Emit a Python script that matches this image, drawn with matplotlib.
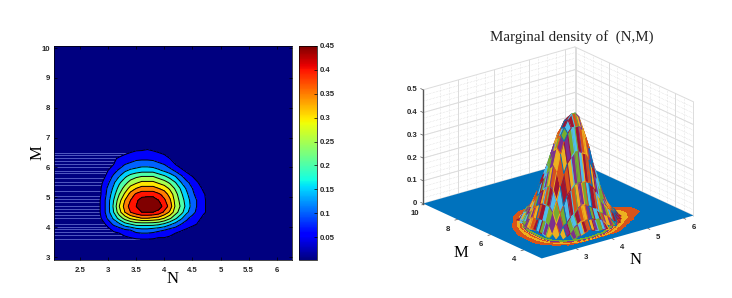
import numpy as np
import matplotlib
matplotlib.use("Agg")
import matplotlib.pyplot as plt
from matplotlib.cm import ScalarMappable
from matplotlib.colors import Normalize, to_rgba
from mpl_toolkits.mplot3d import proj3d

# values
n_vals = [2.5, 2.6, 2.7, 2.8, 2.9, 3.0, 3.1, 3.2, 3.3, 3.4, 3.5, 3.6, 3.7, 3.8, 3.9, 4.0,
          4.1, 4.2, 4.3, 4.4, 4.5, 4.6, 4.7, 4.8, 4.9, 5.0, 5.1, 5.2, 5.3, 5.4, 5.5]
m_vals = [3.3, 3.5, 3.7, 3.9, 4.1, 4.3, 4.5, 4.7, 4.9, 5.1, 5.3, 5.5, 5.7, 5.9, 6.1, 6.3,
          6.5, 6.7, 6.9, 7.1, 7.3]
# density x 100, one row per M
density = [
    [0, 0, 0, 0, 0, 0, 0, 0, 0, 0, 0, 0, 0, 0, 0, 0, 0, 0, 0, 0, 0, 0, 0, 0, 0, 0, 0, 0, 0, 0, 0],
    [0, 0, 0, 0, 0, .3, .5, 1, 1.5, 2, 2.5, 3, 3, 2.5, 2, 2, 1.5, 1, .7, .4, .2, 0, 0, 0, 0, 0, 0, 0, 0, 0, 0],
    [0, 0, 0, .2, .5, 1, 2, 3, 5, 6, 7, 7, 7, 7, 6, 6, 5, 3, 2, 1.2, .7, .4, .2, 0, 0, 0, 0, 0, 0, 0, 0],
    [0, 0, .2, .5, 1.5, 3, 6, 7, 9, 10, 12, 13, 13, 12, 11, 10, 8, 7, 5.5, 4, 2, 1.2, .7, .4, .2, 0, 0, 0, 0, 0, 0],
    [0, .2, .5, 1.5, 3, 7, 11, 14, 18, 20, 22, 22, 22, 22, 21, 19, 16, 13, 10, 8, 6.5, 4.5, 1.5, 1, .6, .4, .2, 0, 0, 0, 0],
    [.1, .3, .7, 1.5, 6, 11, 16, 22, 27, 31, 33, 35, 35, 34, 33, 30, 26, 21, 16, 11, 8, 6, 4, 1.8, 1.2, .8, .5, .3, .1, 0, 0],
    [.2, .4, 1, 2, 7, 13, 20, 28, 35, 40, 43, 45, 45, 45, 43, 39, 34, 27, 22, 16, 12, 8, 5.5, 4, 1.5, 1, .7, .5, .3, .2, .1],
    [.2, .4, 1, 2, 7, 13, 21, 30, 37, 42, 45, 48, 50, 50, 48, 43, 38, 29, 24, 18, 13, 9, 6, 3, 1.8, 1.2, .8, .6, .4, .2, .1],
    [.2, .4, 1, 2, 7, 13, 20, 28, 35, 40, 44, 47, 48, 48, 45, 41, 36, 28, 23, 17, 13, 9, 6, 3, 1.8, 1.2, .8, .6, .4, .2, .1],
    [.2, .4, 1, 2, 6, 12, 18, 25, 31, 37, 41, 43, 43, 43, 41, 38, 33, 27, 21, 16, 11, 8, 5.5, 3, 1.3, .9, .6, .4, .2, .1, 0],
    [.1, .3, .8, 1.5, 6, 11, 16, 22, 27, 32, 35, 37, 37, 37, 35, 33, 29, 24, 19, 14, 10, 7, 4, 1.5, 1, .6, .4, .2, .1, 0, 0],
    [0, .2, .6, 1.5, 5, 9, 14, 19, 23, 27, 29, 31, 31, 31, 29, 27, 24, 20, 15, 11, 8, 5, 2, 1.2, .7, .4, .2, 0, 0, 0, 0],
    [0, .1, .4, 1, 3, 7, 11, 15, 19, 22, 24, 25, 25, 25, 23, 21, 18, 15, 11, 7, 5, 2.5, 1.3, .7, .4, .2, 0, 0, 0, 0, 0],
    [0, 0, .2, .6, 2, 5, 8, 11, 14, 16, 17, 18, 18, 18, 16, 14, 12, 9, 6, 4, 2.5, 1.3, .7, .3, .1, 0, 0, 0, 0, 0, 0],
    [0, 0, .1, .3, 1, 2, 5, 7, 10, 11, 12, 13, 13, 12, 11, 10, 7, 5, 3, 1.5, .8, .4, .2, 0, 0, 0, 0, 0, 0, 0, 0],
    [0, 0, 0, .1, .4, 1, 4, 6, 7, 8, 9, 9, 9, 9, 8, 7, 5, 3, 1.5, .7, .3, .1, 0, 0, 0, 0, 0, 0, 0, 0, 0],
    [0, 0, 0, 0, .1, .5, 1, 2, 4, 5, 6, 6, 7, 6, 5, 4, 2, 1, .5, .2, 0, 0, 0, 0, 0, 0, 0, 0, 0, 0, 0],
    [0, 0, 0, 0, 0, .1, .3, .7, 1.2, 2, 2.5, 3, 3, 2.5, 2, 1.3, .8, .4, .2, 0, 0, 0, 0, 0, 0, 0, 0, 0, 0, 0, 0],
    [0, 0, 0, 0, 0, 0, .1, .3, .5, .8, 1, 1.2, 1.2, 1, .7, .4, .2, 0, 0, 0, 0, 0, 0, 0, 0, 0, 0, 0, 0, 0, 0],
    [0, 0, 0, 0, 0, 0, 0, 0, .1, .3, .4, .5, .5, .4, .2, .1, 0, 0, 0, 0, 0, 0, 0, 0, 0, 0, 0, 0, 0, 0, 0],
    [0, 0, 0, 0, 0, 0, 0, 0, 0, 0, 0, 0, 0, 0, 0, 0, 0, 0, 0, 0, 0, 0, 0, 0, 0, 0, 0, 0, 0, 0, 0],
]
levels = [0.05, 0.10, 0.15, 0.20, 0.25, 0.30, 0.35, 0.40, 0.45]
cbar_ticks = [0.05, 0.1, 0.15, 0.2, 0.25, 0.3, 0.35, 0.4, 0.45]
cbar_labels = ["0.05", "0.1", "0.15", "0.2", "0.25", "0.3", "0.35", "0.4", "0.45"]
left_xticks = [2.5, 3, 3.5, 4, 4.5, 5, 5.5, 6]
left_xlabels = ["2.5", "3", "3.5", "4", "4.5", "5", "5.5", "6"]
left_yticks = [3, 4, 5, 6, 7, 8, 9, 10]
# the pale streaks to the left of the contours
streak_m = [6.5, 6.42, 6.33, 6.22, 6.1, 6.0, 5.88, 5.8, 5.65, 5.5, 5.4, 5.2, 5.05, 4.95,
            4.85, 4.7, 4.6, 4.5, 4.4, 4.3, 4.1, 4.02, 3.95, 3.85, 3.75, 3.62]
n_lim = (2.04, 6.27)
m_lim = (2.9, 10.07)

line_colors = ["#0072BD", "#D95319", "#EDB120", "#7E2F8E", "#77AC30", "#4DBEEE", "#A2142F"]
ring_levels = [0.001, 0.006, 0.012, 0.017, 0.022, 0.03, 0.04]
ring_colors = ["#D95319", "#EDB120", "#D95319", "#EDB120", "#7E2F8E", "#77AC30"]

W, H = 732, 298
tick_font = dict(fontsize=5.6, color="#262626", family="Liberation Sans", fontweight="bold")
serif = "Liberation Serif"


def box(x0, y0, x1, y1):
    # pixel box (top-left origin) to figure fractions
    return [x0 / W, 1 - y1 / H, (x1 - x0) / W, (y1 - y0) / H]


N, M = np.meshgrid(n_vals, m_vals)
Z = np.array(density) / 100.0
cmap = plt.get_cmap("jet")
norm = Normalize(0.002, 0.45)

fig = plt.figure(figsize=(W / 100, H / 100), dpi=100)

# left: filled contour map
ax = fig.add_axes(box(54, 46, 292, 260))
ax.set_facecolor(cmap(0.0))
ax.hlines(streak_m, n_lim[0], 3.7, color="#7f8de6", lw=0.55, alpha=0.8, zorder=1)
fill_colors = [cmap(norm(v)) for v in levels]
ax.contourf(N, M, Z, levels=levels + [0.55], colors=fill_colors, zorder=2)
ax.contour(N, M, Z, levels=levels, colors="k", linewidths=0.7, zorder=3)
ax.set_xlim(n_lim)
ax.set_ylim(m_lim)
ax.set_xticks(left_xticks)
ax.set_xticklabels(left_xlabels, **tick_font)
ax.set_yticks(left_yticks)
ax.set_yticklabels([str(v) for v in left_yticks], **tick_font)
ax.tick_params(direction="in", length=2, width=0.5, top=True, right=True, pad=3)
ax.tick_params(axis="x", pad=5)
ax.set_xlabel("N", family=serif, fontsize=12, labelpad=-2)
ax.set_ylabel("M", family=serif, fontsize=12, labelpad=-3)
for s in ax.spines.values():
    s.set_linewidth(0.5)

# colorbar
cax = fig.add_axes(box(299, 46, 317, 260))
cb = fig.colorbar(ScalarMappable(norm=norm, cmap=cmap), cax=cax)
cb.set_ticks(cbar_ticks)
cb.set_ticklabels(cbar_labels, **tick_font)
cb.ax.tick_params(direction="in", length=2, width=0.5, pad=2)
cb.outline.set_linewidth(0.5)

# right: 3D mesh
ax3 = fig.add_axes(box(394, -3, 714, 317), projection="3d", computed_zorder=False)
ax3.set_proj_type("ortho")
ax3.view_init(elev=21.2, azim=-128)
ax3.set_box_aspect((1, 1, 0.634), zoom=0.905)
ax3.set_xlim(n_lim)
ax3.set_ylim(m_lim)
ax3.set_zlim(0, 0.5)
ax3.set_xticks([])
ax3.set_yticks([])
ax3.set_zticks([])
ax3.set_axis_off()
ax3.patch.set_alpha(0)

z_ticks = [0, 0.1, 0.2, 0.3, 0.4, 0.5]
n_ticks = [3, 4, 5, 6]
m_ticks = [4, 6, 8, 10]
major = dict(color="#dcdcdc", lw=0.7, zorder=0)
minor = dict(color="#d0d0d0", lw=0.4, ls=":", zorder=0)
n0, n1 = n_lim
m0, m1 = m_lim
for z in np.arange(0, 0.5, 0.025):
    ax3.plot([n0, n1], [m1, m1], [z, z], **minor)
    ax3.plot([n1, n1], [m0, m1], [z, z], **minor)
for v in np.arange(2.5, 6.2, 0.25):
    ax3.plot([v, v], [m1, m1], [0, 0.5], **minor)
for v in np.arange(3.5, 10, 0.5):
    ax3.plot([n1, n1], [v, v], [0, 0.5], **minor)
for z in z_ticks:
    ax3.plot([n0, n1], [m1, m1], [z, z], **major)
    ax3.plot([n1, n1], [m0, m1], [z, z], **major)
for v in n_ticks:
    ax3.plot([v, v], [m1, m1], [0, 0.5], **major)
for v in m_ticks:
    ax3.plot([n1, n1], [v, v], [0, 0.5], **major)
ax3.plot([n1, n1], [m1, m1], [0, 0.5], **major)
ax3.plot([n0, n0], [m1, m1], [0, 0.5], color="#555555", lw=1.0, zorder=0.5)
ax3.plot([n1, n1], [m0, m0], [0, 0.5], **major)

# floor
ax3.plot_surface(np.array([[n0, n1], [n0, n1]]), np.array([[m0, m0], [m1, m1]]),
                 np.zeros((2, 2)), color="#0072BD", shade=False, linewidth=0, zorder=1)
# coloured rings at the foot of the peak
ax3.contourf(N, M, Z, levels=ring_levels, colors=ring_colors, zdir="z", offset=0, zorder=2)

# the peak, cells and edges coloured in the line colour cycle
nr, nc = Z.shape
cell_colors = np.zeros((nr - 1, nc - 1, 4))
edge_colors = np.zeros((nr - 1, nc - 1, 4))
for i in range(nr - 1):
    for j in range(nc - 1):
        if Z[i:i + 2, j:j + 2].max() >= 0.035:
            cell_colors[i, j] = to_rgba(line_colors[1 + (i + j) % 6])
            edge_colors[i, j] = to_rgba(line_colors[(i - j + 3) % 7])
surf = ax3.plot_surface(N, M, Z, facecolors=cell_colors, shade=False, rstride=1, cstride=1,
                        linewidth=0.7, zorder=3)
surf.set_edgecolor(edge_colors.reshape(-1, 4))

# tick stubs
for v in n_ticks:
    ax3.plot([v, v], [m0, m0 - 0.12], [0, 0], color="#555555", lw=0.5, zorder=4, clip_on=False)
for v in m_ticks:
    ax3.plot([n0, n0 - 0.07], [v, v], [0, 0], color="#555555", lw=0.5, zorder=4, clip_on=False)
for z in z_ticks:
    ax3.plot([n0, n0], [m1, m1 + 0.15], [z, z], color="#555555", lw=0.5, zorder=4, clip_on=False)


def label3d(x, y, z, s, dx=0, **kw):
    # text placed at the projected position of a point in the 3D axes
    px, py, _ = proj3d.proj_transform(x, y, z, ax3.get_proj())
    ax3.annotate(s, xy=(px, py), xytext=(dx, 0), textcoords="offset pixels", annotation_clip=False,
                 va="center", zorder=6, **kw, **tick_font)


for z in z_ticks:
    label3d(n0, m1, z, "%g" % z, dx=-6, ha="right")
for v in n_ticks:
    label3d(v - 0.16, m0 - 0.94, 0, str(v), ha="center")
for v in m_ticks:
    label3d(n0 - 0.54, v - 0.57, 0, str(v), ha="center")

fig.text(572 / W, 1 - 37 / H, "Marginal density of  (N,M)", family=serif, fontsize=10.8,
         ha="center", va="center", color="#222222")
fig.text(461 / W, 1 - 253 / H, "M", family=serif, fontsize=12, ha="center", va="center")
fig.text(636 / W, 1 - 260 / H, "N", family=serif, fontsize=12, ha="center", va="center")

fig.savefig("out.png", dpi=100)
